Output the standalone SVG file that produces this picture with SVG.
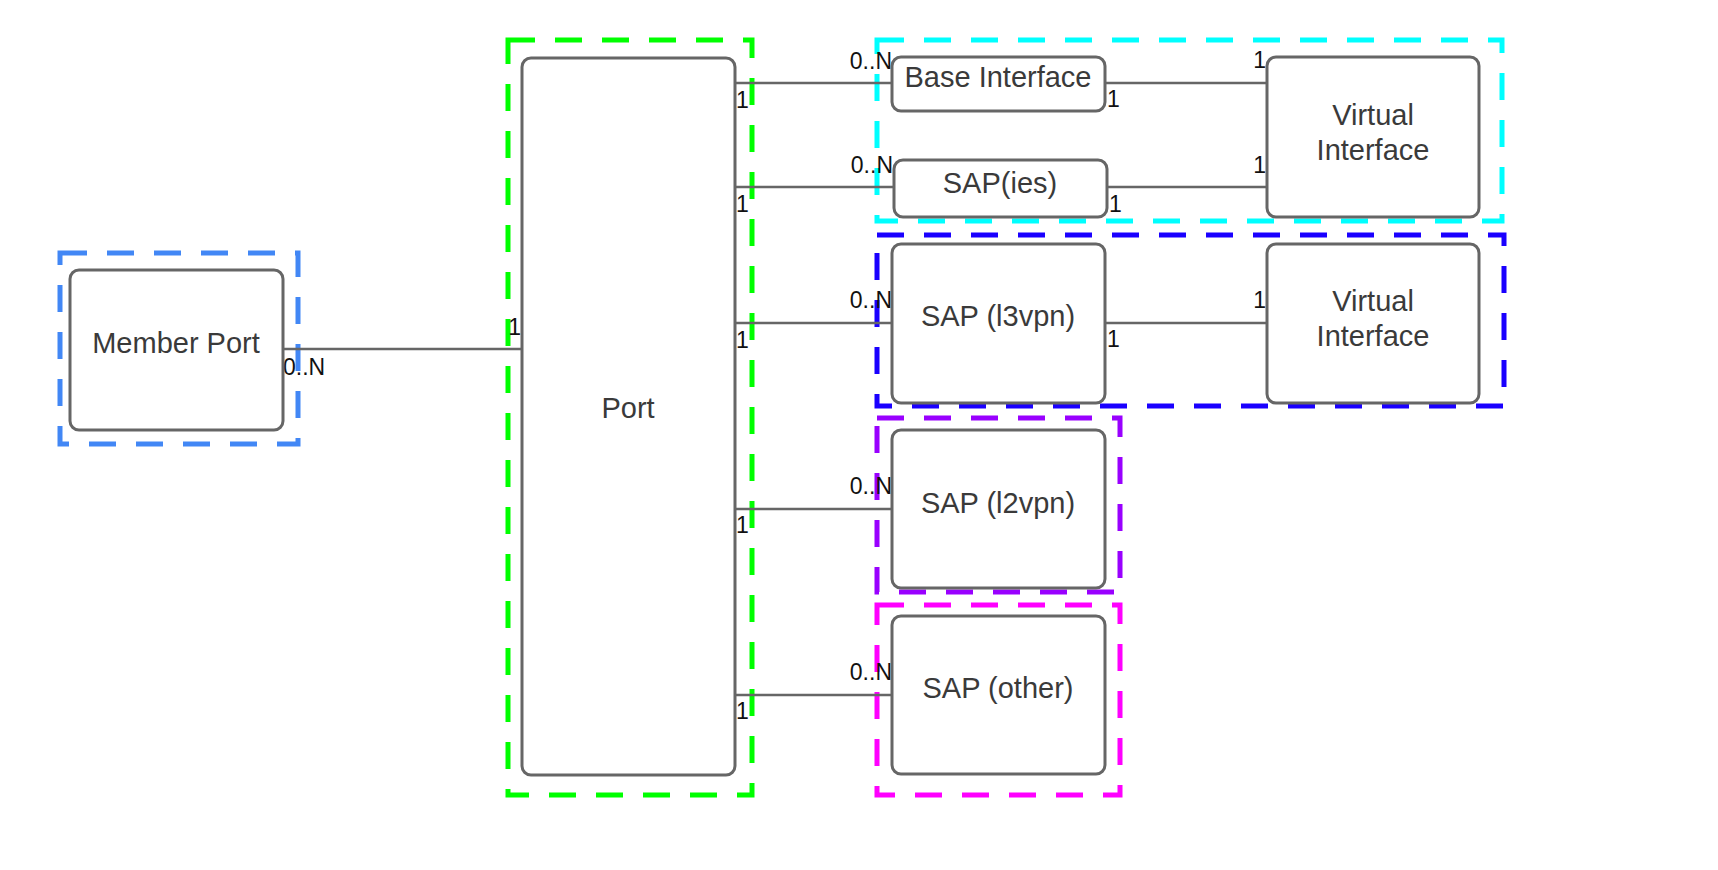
<svg xmlns="http://www.w3.org/2000/svg" width="1718" height="870" viewBox="0 0 1718 870">
<style>
.box{fill:#fff;stroke:#666;stroke-width:3}
.grp{fill:none;stroke-width:5;stroke-dasharray:27 20}
.t{font-family:"Liberation Sans",Arial,sans-serif;font-size:29px;fill:#3a3a3a;text-anchor:middle}
.l{font-family:"Liberation Sans",Arial,sans-serif;font-size:23px;fill:#111}
.e{text-anchor:end}
.c{stroke:#666;stroke-width:2.5;fill:none}
</style>
<rect width="1718" height="870" fill="#fff"/>
<g id="groups">
<rect class="grp" x="60" y="253" width="238" height="191" stroke="#4287f5"/>
<rect class="grp" x="508" y="40" width="244" height="755" stroke="#00ff00"/>
<rect class="grp" x="877" y="40" width="625" height="181" stroke="#00ffff"/>
<rect class="grp" x="877" y="235" width="627" height="171" stroke="#1a00ff"/>
<rect class="grp" x="877" y="418" width="243" height="174" stroke="#9900ff"/>
<rect class="grp" x="877" y="605" width="243" height="190" stroke="#ff00ff"/>
</g>
<g id="connectors">
<line class="c" x1="283" y1="349" x2="522" y2="349"/>
<line class="c" x1="735" y1="83" x2="892" y2="83"/>
<line class="c" x1="735" y1="187" x2="894" y2="187"/>
<line class="c" x1="735" y1="323" x2="892" y2="323"/>
<line class="c" x1="735" y1="509" x2="892" y2="509"/>
<line class="c" x1="735" y1="695" x2="892" y2="695"/>
<line class="c" x1="1105" y1="83" x2="1267" y2="83"/>
<line class="c" x1="1107" y1="187" x2="1267" y2="187"/>
<line class="c" x1="1105" y1="323" x2="1267" y2="323"/>
<text class="l" x="283" y="375">0..N</text>
<text class="l e" x="521" y="335">1</text>
<text class="l" x="736" y="108">1</text>
<text class="l" x="736" y="212">1</text>
<text class="l" x="736" y="348">1</text>
<text class="l" x="736" y="533">1</text>
<text class="l" x="736" y="719">1</text>
<text class="l e" x="892" y="69">0..N</text>
<text class="l e" x="893" y="173">0..N</text>
<text class="l e" x="892" y="308">0..N</text>
<text class="l e" x="892" y="494">0..N</text>
<text class="l e" x="892" y="680">0..N</text>
<text class="l" x="1107" y="107">1</text>
<text class="l" x="1109" y="212">1</text>
<text class="l" x="1107" y="347">1</text>
<text class="l e" x="1266" y="68">1</text>
<text class="l e" x="1266" y="173">1</text>
<text class="l e" x="1266" y="308">1</text>
</g>
<g id="member-port"><rect class="box" x="70" y="270" width="213" height="160" rx="9"/><text class="t" x="176" y="353">Member Port</text></g>
<g id="port"><rect class="box" x="522" y="58" width="213" height="717" rx="9"/><text class="t" x="628" y="418">Port</text></g>
<g id="base-interface"><rect class="box" x="892" y="57" width="213" height="54" rx="9"/><text class="t" x="998" y="87">Base Interface</text></g>
<g id="sap-ies"><rect class="box" x="894" y="160" width="213" height="57" rx="9"/><text class="t" x="1000" y="193">SAP(ies)</text></g>
<g id="virtual-interface-1"><rect class="box" x="1267" y="57" width="212" height="160" rx="9"/><text class="t" x="1373" y="125">Virtual</text><text class="t" x="1373" y="160">Interface</text></g>
<g id="sap-l3vpn"><rect class="box" x="892" y="244" width="213" height="159" rx="9"/><text class="t" x="998" y="326">SAP (l3vpn)</text></g>
<g id="virtual-interface-2"><rect class="box" x="1267" y="244" width="212" height="159" rx="9"/><text class="t" x="1373" y="311">Virtual</text><text class="t" x="1373" y="346">Interface</text></g>
<g id="sap-l2vpn"><rect class="box" x="892" y="430" width="213" height="158" rx="9"/><text class="t" x="998" y="513">SAP (l2vpn)</text></g>
<g id="sap-other"><rect class="box" x="892" y="616" width="213" height="158" rx="9"/><text class="t" x="998" y="698">SAP (other)</text></g>
</svg>
